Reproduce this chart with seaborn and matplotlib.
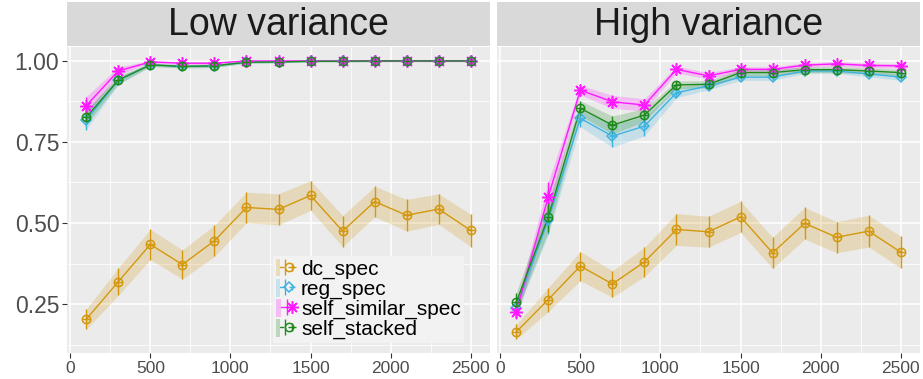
import numpy as np
import pandas as pd
import matplotlib
matplotlib.use("Agg")
import matplotlib.pyplot as plt
import seaborn as sns
from matplotlib.lines import Line2D
from matplotlib.patches import Patch
from matplotlib.legend_handler import HandlerTuple
from matplotlib.ticker import MultipleLocator, FixedLocator

# ---------------- data ----------------
x_vals = [100, 300, 500, 700, 900, 1100, 1300, 1500, 1700, 1900, 2100, 2300, 2500]
panels = ["Low variance", "High variance"]
series = ["dc_spec", "reg_spec", "self_similar_spec", "self_stacked"]

low_dc = [0.203, 0.319, 0.434, 0.372, 0.445, 0.548, 0.542, 0.585, 0.475, 0.566, 0.524, 0.543, 0.477]
low_dc_err = [0.031, 0.042, 0.047, 0.045, 0.048, 0.047, 0.048, 0.046, 0.048, 0.047, 0.049, 0.047, 0.050]
low_reg = [0.818, 0.940, 0.988, 0.983, 0.985, 0.996, 0.997, 0.999, 0.999, 1.000, 1.000, 1.000, 1.000]
low_reg_err = [0.030, 0.012, 0.005, 0.005, 0.005, 0.003, 0.003, 0.002, 0.002, 0.002, 0.002, 0.002, 0.002]
low_ss = [0.862, 0.969, 0.997, 0.993, 0.993, 1.000, 1.000, 1.000, 1.000, 1.000, 1.000, 1.000, 1.000]
low_ss_err = [0.028, 0.012, 0.004, 0.004, 0.004, 0.002, 0.002, 0.002, 0.002, 0.002, 0.002, 0.002, 0.002]
low_st = [0.826, 0.941, 0.988, 0.983, 0.985, 0.996, 0.997, 0.999, 0.999, 1.000, 1.000, 1.000, 1.000]
low_st_err = [0.022, 0.012, 0.005, 0.005, 0.005, 0.003, 0.003, 0.002, 0.002, 0.002, 0.002, 0.002, 0.002]

high_dc = [0.164, 0.264, 0.367, 0.312, 0.380, 0.480, 0.473, 0.519, 0.408, 0.499, 0.456, 0.475, 0.410]
high_dc_err = [0.023, 0.037, 0.045, 0.041, 0.045, 0.049, 0.048, 0.048, 0.048, 0.049, 0.048, 0.049, 0.049]
high_reg = [0.239, 0.510, 0.823, 0.768, 0.799, 0.902, 0.923, 0.950, 0.950, 0.969, 0.969, 0.960, 0.950]
high_reg_err = [0.020, 0.045, 0.026, 0.034, 0.030, 0.015, 0.012, 0.010, 0.010, 0.008, 0.008, 0.009, 0.010]
high_ss = [0.226, 0.581, 0.910, 0.874, 0.864, 0.974, 0.954, 0.974, 0.974, 0.987, 0.991, 0.986, 0.985]
high_ss_err = [0.023, 0.046, 0.015, 0.020, 0.019, 0.010, 0.010, 0.008, 0.008, 0.007, 0.007, 0.007, 0.007]
high_st = [0.255, 0.519, 0.854, 0.802, 0.833, 0.926, 0.928, 0.964, 0.964, 0.973, 0.973, 0.969, 0.964]
high_st_err = [0.030, 0.046, 0.023, 0.028, 0.020, 0.012, 0.011, 0.010, 0.010, 0.009, 0.009, 0.009, 0.010]

values = {
    ("Low variance", "dc_spec"): (low_dc, low_dc_err),
    ("Low variance", "reg_spec"): (low_reg, low_reg_err),
    ("Low variance", "self_similar_spec"): (low_ss, low_ss_err),
    ("Low variance", "self_stacked"): (low_st, low_st_err),
    ("High variance", "dc_spec"): (high_dc, high_dc_err),
    ("High variance", "reg_spec"): (high_reg, high_reg_err),
    ("High variance", "self_similar_spec"): (high_ss, high_ss_err),
    ("High variance", "self_stacked"): (high_st, high_st_err),
}

rows = []
for (p, s), (v, e) in values.items():
    for xi, vi, ei in zip(x_vals, v, e):
        rows.append({"panel": p, "series": s, "n": xi, "value": vi, "err": ei})
df = pd.DataFrame(rows)

# ---------------- style ----------------
colors = {"dc_spec": "#D4980F", "reg_spec": "#3FB3E0",
          "self_similar_spec": "#FF1AFF", "self_stacked": "#1E8A1E"}
markers = {"dc_spec": "o", "reg_spec": "D", "self_similar_spec": (8, 2, 0), "self_stacked": "o"}
msize = {"dc_spec": 6, "reg_spec": 5.5, "self_similar_spec": 9, "self_stacked": 6}
plus = {"dc_spec": True, "reg_spec": True, "self_similar_spec": False, "self_stacked": True}

sns.set_theme(style="darkgrid")
plt.rcParams["font.family"] = ["Liberation Sans", "DejaVu Sans"]

W, H = 923, 379
fig = plt.figure(figsize=(W / 100, H / 100), dpi=100)

panel_px = [(67, 490), (497, 920)]
top_px, bot_px = 47, 353
strip_top = 2

for i, (p, (x0, x1)) in enumerate(zip(panels, panel_px)):
    ax = fig.add_axes([x0 / W, (H - bot_px) / H, (x1 - x0) / W, (bot_px - top_px) / H])
    ax.set_facecolor("#EBEBEB")
    sub = df[df.panel == p]
    for s in series:
        d = sub[sub.series == s]
        c = colors[s]
        ax.fill_between(d["n"], d["value"] - d["err"], d["value"] + d["err"],
                        color=c, alpha=0.22, lw=0, zorder=2)
    sns.lineplot(data=sub, x="n", y="value", hue="series", hue_order=series,
                 palette=colors, ax=ax, legend=False, lw=1.0, zorder=3)
    for s in series:
        d = sub[sub.series == s]
        c = colors[s]
        ax.vlines(d["n"], d["value"] - d["err"], d["value"] + d["err"], color=c, lw=1.0, zorder=4)
        ax.plot(d["n"], d["value"], ls="none", marker=markers[s], ms=msize[s],
                mfc="none", mec=c, mew=1.1, zorder=5)
        if plus[s]:
            ax.plot(d["n"], d["value"], ls="none", marker="+", ms=msize[s] * 0.9,
                    mec=c, mew=1.0, zorder=5)
    ax.set_xlim(-20, 2620)
    ax.set_ylim(0.099, 1.043)
    ax.xaxis.set_major_locator(MultipleLocator(500))
    ax.xaxis.set_minor_locator(FixedLocator([250, 750, 1250, 1750, 2250]))
    ax.yaxis.set_major_locator(FixedLocator([0.25, 0.5, 0.75, 1.0]))
    ax.yaxis.set_minor_locator(FixedLocator([0.125, 0.375, 0.625, 0.875]))
    ax.grid(which="major", color="white", lw=1.1)
    ax.grid(which="minor", color="white", lw=0.55)
    ax.set_axisbelow(True)
    for sp in ax.spines.values():
        sp.set_visible(False)
    ax.set_xlabel("")
    ax.set_ylabel("")
    ax.tick_params(axis="x", which="major", length=3.5, width=0.8, color="#333333",
                   labelsize=12.5, labelcolor="#4D4D4D", pad=2, bottom=True)
    ax.tick_params(which="minor", length=0)
    if i == 0:
        ax.set_yticklabels(["0.25", "0.50", "0.75", "1.00"])
        ax.tick_params(axis="y", which="major", length=3.5, width=0.8, color="#333333",
                       labelsize=16.5, labelcolor="#4D4D4D", pad=2, left=True)
    else:
        ax.tick_params(axis="y", which="major", left=False, labelleft=False)

    # strip
    sax = fig.add_axes([x0 / W, (H - (top_px - 1)) / H, (x1 - x0) / W, (top_px - 1 - strip_top) / H])
    sax.set_facecolor("#D9D9D9")
    sax.set_xticks([])
    sax.set_yticks([])
    for sp in sax.spines.values():
        sp.set_visible(False)
    sax.text(0.5, 0.47, p, ha="center", va="center", fontsize=27, color="#1A1A1A",
             transform=sax.transAxes)

    if i == 0:
        handles = []
        for s in series:
            c = colors[s]
            parts = [Patch(facecolor=c, alpha=0.25, edgecolor="none"),
                     Line2D([0], [0], color=c, lw=1.0),
                     Line2D([0], [0], color=c, ls="none", marker="|", ms=11, mew=1.0),
                     Line2D([0], [0], color=c, ls="none", marker=markers[s], ms=msize[s],
                            mfc="none", mec=c, mew=1.1)]
            if plus[s]:
                parts.append(Line2D([0], [0], color=c, ls="none", marker="+",
                                    ms=msize[s] * 0.9, mew=1.0))
            handles.append(tuple(parts))
        leg = ax.legend(handles, series, handler_map={tuple: HandlerTuple(ndivide=None, pad=0)},
                        loc="upper left", bbox_to_anchor=(273 / W, 1 - 256 / H),
                        bbox_transform=fig.transFigure, fontsize=15, frameon=True,
                        facecolor="#F2F2F2", edgecolor="none", framealpha=1, fancybox=False,
                        borderpad=0.15, labelspacing=0.0, handlelength=0.85,
                        handleheight=0.9, handletextpad=0.35, borderaxespad=0)
        for t in leg.get_texts():
            t.set_color("#000000")

fig.savefig("out.png", dpi=100)
